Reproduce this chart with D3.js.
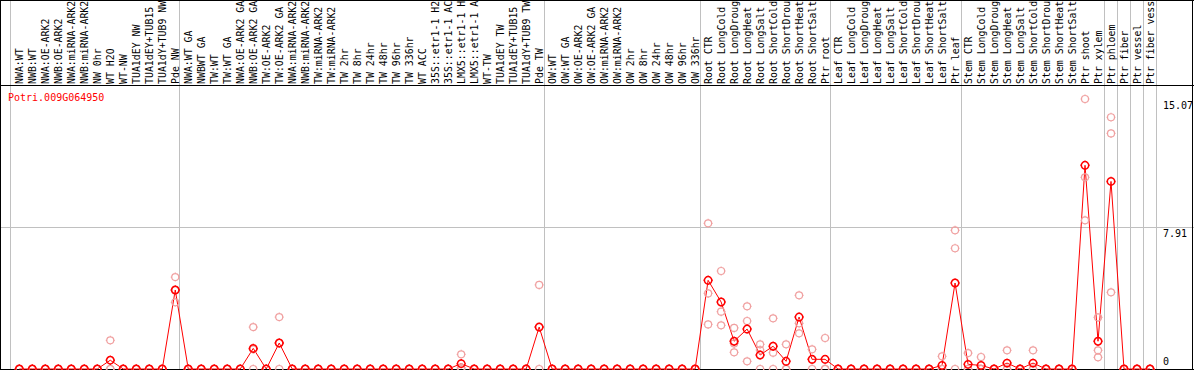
<!DOCTYPE html>
<html>
<head>
<meta charset="utf-8">
<script src="https://cdn.jsdelivr.net/npm/d3@7"></script>
<style>
  body { margin: 0; background: #fff; }
  svg { display: block; }
  text { font-family: "DejaVu Sans Mono", monospace; font-size: 10px; }
</style>
</head>
<body>
<div id="chart"></div>
<script>
// sample names, left to right
const categories = [
  "NWA:WT", "NWB:WT", "NWA:OE-ARK2", "NWB:OE-ARK2", "NWA:miRNA-ARK2", "NWB:miRNA-ARK2",
  "NW 0hr", "WT H2O", "WT-NW", "TUA1dEY NW", "TUA1dEY+TUB15 NW", "TUA1dY+TUB9 NW", "Pde NW",
  "NWA:WT GA", "NWBWT GA", "TW:WT", "TW:WT GA", "NWA:OE-ARK2 GA", "NWB:OE-ARK2 GA",
  "TW:OE-ARK2", "TW:OE-ARK2 GA", "NWA:miRNA-ARK2 GA", "NWB:miRNA-ARK2 GA", "TW:miRNA-ARK2",
  "TW:miRNA-ARK2 GA", "TW 2hr", "TW 8hr", "TW 24hr", "TW 48hr", "TW 96hr", "TW 336hr",
  "WT ACC", "35S::etr1-1 H2O", "35S::etr1-1 ACC", "LMX5::etr1-1 H2O", "LMX5::etr1-1 ACC",
  "WT-TW", "TUA1dEY TW", "TUA1dEY+TUB15 TW", "TUA1dY+TUB9 TW", "Pde TW",
  "OW:WT", "OW:WT GA", "OW:OE-ARK2", "OW:OE-ARK2 GA", "OW:miRNA-ARK2", "OW:miRNA-ARK2 GA",
  "OW 2hr", "OW 8hr", "OW 24hr", "OW 48hr", "OW 96hr", "OW 336hr",
  "Root CTR", "Root LongCold", "Root LongDrought", "Root LongHeat", "Root LongSalt",
  "Root ShortCold", "Root ShortDrought", "Root ShortHeat", "Root ShortSalt", "Ptr root",
  "Leaf CTR", "Leaf LongCold", "Leaf LongDrought", "Leaf LongHeat", "Leaf LongSalt",
  "Leaf ShortCold", "Leaf ShortDrought", "Leaf ShortHeat", "Leaf ShortSalt", "Ptr leaf",
  "Stem CTR", "Stem LongCold", "Stem LongDrought", "Stem LongHeat", "Stem LongSalt",
  "Stem ShortCold", "Stem ShortDrought", "Stem ShortHeat", "Stem ShortSalt", "Ptr shoot",
  "Ptr xylem", "Ptr phloem", "Ptr fiber", "Ptr vessel", "Ptr fiber vessel"
];

// how many samples sit in each block between the grey lines
const groupSizes = [13, 28, 12, 10, 10, 11, 1, 1, 1, 1];

// mean expression (red line)
const means = [
  0, 0, 0, 0, 0, 0, 0, 0.49, 0, 0, 0, 0, 4.41,
  0, 0, 0, 0, 0, 1.15, 0, 1.45, 0, 0, 0, 0, 0, 0, 0, 0, 0, 0, 0, 0, 0, 0.3, 0, 0, 0, 0, 0, 2.34,
  0, 0, 0, 0, 0, 0, 0, 0, 0, 0, 0, 0,
  4.95, 3.74, 1.55, 2.23, 0.78, 1.27, 0.43, 2.9, 0.54, 0.54,
  0, 0, 0, 0, 0, 0, 0, 0, 0.2, 4.8,
  0.26, 0.2, 0, 0.33, 0, 0.33, 0, 0, 0, 11.37,
  1.55, 10.47, 0, 0, 0
];

// replicates (pale circles)
const rep1 = [
  0, 0, 0, 0, 0, 0, 0, 1.6, 0, 0, 0, 0, 5.13,
  0, 0, 0, 0, 0, 2.34, 0, 2.9, 0, 0, 0, 0, 0, 0, 0, 0, 0, 0, 0, 0, 0, 0.82, 0, 0, 0, 0, 0, 4.69,
  0, 0, 0, 0, 0, 0, 0, 0, 0, 0, 0, 0,
  8.13, 5.47, 2.29, 3.5, 1.38, 2.83, 1.38, 4.11, 1.1, 1.73,
  0, 0, 0, 0, 0, 0, 0, 0, 0.71, 7.74,
  0.89, 0.67, 0, 1.04, 0, 1.04, 0, 0, 0, 15.07,
  2.88, 14.05, 0, 0, 0
];
const rep2 = [
  0, 0, 0, 0, 0, 0, 0, 0, 0, 0, 0, 0, 4.4,
  0, 0, 0, 0, 0, 1.1, 0, 1.45, 0, 0, 0, 0, 0, 0, 0, 0, 0, 0, 0, 0, 0, 0.08, 0, 0, 0, 0, 0, 2.34,
  0, 0, 0, 0, 0, 0, 0, 0, 0, 0, 0, 0,
  4.22, 3.2, 1.43, 2.68, 1.06, 0.91, 0, 2.55, 0.52, 0,
  0, 0, 0, 0, 0, 0, 0, 0, 0, 6.74,
  0, 0, 0, 0, 0, 0, 0, 0, 0, 10.7,
  1.04, 13.15, 0, 0, 0
];
const rep3 = [
  0, 0, 0, 0, 0, 0, 0, 0, 0, 0, 0, 0, 3.72,
  0, 0, 0, 0, 0, 0, 0, 0, 0, 0, 0, 0, 0, 0, 0, 0, 0, 0, 0, 0, 0, 0, 0, 0, 0, 0, 0, 0,
  0, 0, 0, 0, 0, 0, 0, 0, 0, 0, 0, 0,
  2.49, 2.44, 0.93, 0.43, 0, 0, 0, 1.99, 0, 0,
  0, 0, 0, 0, 0, 0, 0, 0, 0, 0,
  0, 0, 0, 0, 0, 0, 0, 0, 0, 8.3,
  0.65, 4.28, 0, 0, 0
];

const yTicks = [0, 7.91, 15.07];
const geneId = "Potri.009G064950";

const width = 1194;
const height = 370;
const headerBottom = 85.5;
const plotBottom = 369;
const maxLabelChars = 14; // header labels are cut to this length

const svg = d3.select("#chart")
  .append("svg")
  .attr("width", width)
  .attr("height", height);

// band scale for the block dividers, point scale for the marks
const xBand = d3.scaleBand().domain(categories).range([10, 1156]);
const x = d3.scalePoint().domain(categories).range([19.3, 1150]);
const y = d3.scaleLinear().domain([0, 15.07]).range([plotBottom, 99]);

// vertical dividers
const cuts = d3.cumsum([0].concat(groupSizes));
const cutX = k => Math.round(k < categories.length ? xBand(categories[k]) : xBand.range()[1]) + 0.5;
svg.selectAll("line.vgrid")
  .data(Array.from(cuts))
  .enter()
  .append("line")
  .attr("class", "vgrid")
  .attr("x1", cutX)
  .attr("x2", cutX)
  .attr("y1", 0)
  .attr("y2", plotBottom)
  .attr("stroke", "#c0c0c0")
  .attr("stroke-width", 1);

// horizontal grid line at the middle tick
svg.selectAll("line.hgrid")
  .data(yTicks.filter(v => v > 0 && v < 15.07))
  .enter()
  .append("line")
  .attr("class", "hgrid")
  .attr("x1", 0)
  .attr("x2", width)
  .attr("y1", v => Math.round(y(v)) + 0.5)
  .attr("y2", v => Math.round(y(v)) + 0.5)
  .attr("stroke", "#c0c0c0");

// frame
const frame = [
  [0, 0.5, width, 0.5],
  [0, headerBottom, width, headerBottom],
  [0, plotBottom + 0.5, width, plotBottom + 0.5],
  [0.5, 0, 0.5, height],
  [width - 1.5, 0, width - 1.5, height]
];
svg.selectAll("line.frame")
  .data(frame)
  .enter()
  .append("line")
  .attr("class", "frame")
  .attr("x1", d => d[0]).attr("y1", d => d[1])
  .attr("x2", d => d[2]).attr("y2", d => d[3])
  .attr("stroke", "#000");

// rotated sample labels in the header
svg.selectAll("text.cat")
  .data(categories)
  .enter()
  .append("text")
  .attr("class", "cat")
  .attr("transform", d => `translate(${x(d) + 3.5},84) rotate(-90)`)
  .attr("fill", "#000")
  .style("font-size", "9.9px")
  .text(d => d.slice(0, maxLabelChars).trimEnd());

// y tick labels on the right
svg.selectAll("text.ytick")
  .data(yTicks)
  .enter()
  .append("text")
  .attr("class", "ytick")
  .attr("x", 1163)
  .attr("y", v => v > 0 ? y(v) + 10 : y(v) - 4)
  .attr("fill", "#000")
  .text(v => v);

svg.append("text")
  .attr("x", 8)
  .attr("y", 101)
  .attr("fill", "#ff0000")
  .text(geneId);

// marker: small circle with four little nubs
function marker(r) {
  const p = d3.path();
  p.moveTo(r, 0);
  p.arc(0, 0, r, 0, Math.PI * 2);
  [[0, -1], [0, 1], [-1, 0], [1, 0]].forEach(([dx, dy]) => {
    p.moveTo(dx * r, dy * r);
    p.lineTo(dx * (r + 1), dy * (r + 1));
  });
  return p.toString();
}

const plot = svg.append("g");

// mean line
const line = d3.line()
  .x((d, i) => x(categories[i]))
  .y(d => y(d));

plot.append("path")
  .datum(means)
  .attr("d", line)
  .attr("fill", "none")
  .attr("stroke", "#ff0000")
  .attr("stroke-width", 1);

// replicate points
const reps = [];
[rep1, rep2, rep3].forEach(arr => arr.forEach((v, i) => reps.push({ cat: categories[i], v })));

plot.selectAll("path.rep")
  .data(reps)
  .enter()
  .append("path")
  .attr("class", "rep")
  .attr("transform", d => `translate(${x(d.cat)},${y(d.v)})`)
  .attr("d", marker(3.5))
  .attr("fill", "none")
  .attr("stroke", "#f0a0a0")
  .attr("stroke-width", 1.2);

// mean points
plot.selectAll("path.mean")
  .data(means)
  .enter()
  .append("path")
  .attr("class", "mean")
  .attr("transform", (d, i) => `translate(${x(categories[i])},${y(d)})`)
  .attr("d", marker(3.7))
  .attr("fill", "none")
  .attr("stroke", "#ff0000")
  .attr("stroke-width", 1.5);
</script>
</body>
</html>
